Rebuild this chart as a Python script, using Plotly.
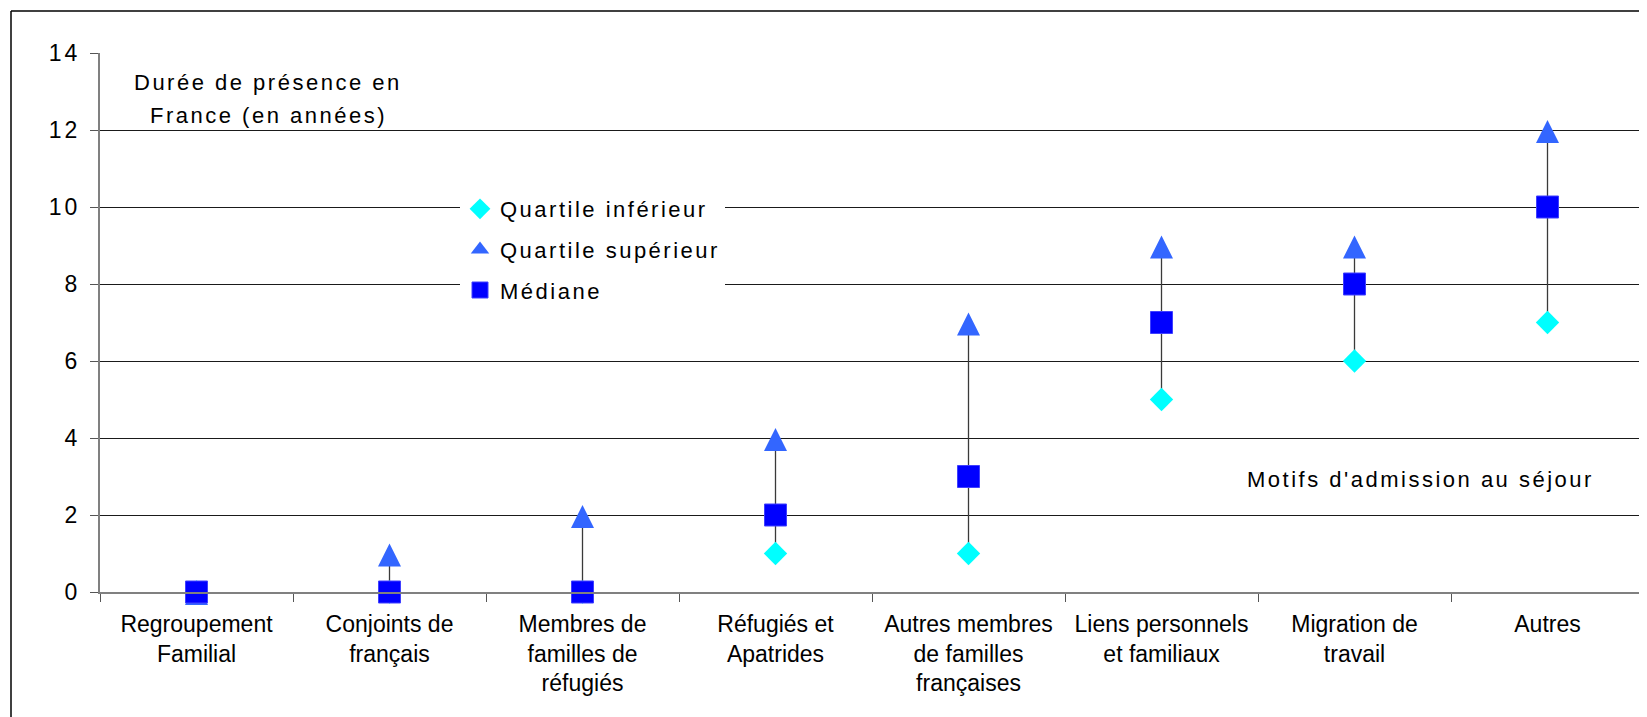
import plotly.graph_objects as go

# ---- data ----
categories = [
    "Regroupement<br>Familial",
    "Conjoints de<br>français",
    "Membres de<br>familles de<br>réfugiés",
    "Réfugiés et<br>Apatrides",
    "Autres membres<br>de familles<br>françaises",
    "Liens personnels<br>et familiaux",
    "Migration de<br>travail",
    "Autres",
]
quartile_inferieur = [0, 0, 0, 1, 1, 5, 6, 7]
quartile_superieur = [0, 1, 2, 4, 7, 9, 9, 12]
mediane = [0, 0, 0, 2, 3, 7, 8, 10]
y_tick_values = [0, 2, 4, 6, 8, 10, 12, 14]

series_names = ["Quartile inférieur", "Quartile supérieur", "Médiane"]
y_title_lines = ["Durée de présence en", "France (en années)"]
x_title = "Motifs d'admission au séjour"

FONT = "Liberation Sans, Arial, sans-serif"
C_INF, C_SUP, C_MED = "#00FFFF", "#3366FF", "#0000FF"


def spaced(text, px):
    return f'<span style="letter-spacing:{px}px">{text}</span>'


# vertical connectors from lower to upper quartile
line_x, line_y = [], []
for c, lo, hi in zip(categories, quartile_inferieur, quartile_superieur):
    line_x += [c, c, None]
    line_y += [lo, hi, None]

fig = go.Figure()
fig.add_trace(go.Scatter(
    x=line_x, y=line_y, mode="lines", showlegend=False, hoverinfo="skip",
    line=dict(color="#3a3a3a", width=1.3), cliponaxis=False,
))
fig.add_trace(go.Scatter(
    x=categories, y=quartile_inferieur, mode="markers",
    name=spaced(series_names[0], 2.5), legendgroup="a", legendrank=1,
    marker=dict(symbol="diamond", size=18, color=C_INF, line=dict(width=0)),
    cliponaxis=False,
))
# upper quartile: triangle whose centre sits slightly below its apex, like the original
fig.add_trace(go.Scatter(
    x=categories, y=quartile_superieur, mode="markers",
    name=series_names[1], legendgroup="b", showlegend=False,
    marker=dict(symbol="arrow-down", angle=180, standoff=10, size=23,
                color=C_SUP, line=dict(width=0)),
    cliponaxis=False,
))
# legend entry for the upper quartile (plain triangle symbol)
fig.add_trace(go.Scatter(
    x=[None], y=[None], mode="markers",
    name=spaced(series_names[1], 2.5), legendgroup="b", legendrank=2,
    marker=dict(symbol="triangle-up", size=16, color=C_SUP, line=dict(width=0)),
))
fig.add_trace(go.Scatter(
    x=categories, y=mediane, mode="markers",
    name=spaced(series_names[2], 2.5), legendgroup="c", legendrank=3,
    marker=dict(symbol="square", size=22, color=C_MED, line=dict(width=1, color="#4040FF")),
    cliponaxis=False,
))

# page offset of the figure inside the html body (default body margin)
OFF = 8
W, H = 1647, 717
# target plot area in page pixels: x 100..1644, y 53..592
L = 100 - OFF
T = 53 - OFF
R = W - (1644 - OFF)
B = H - (592 - OFF)
pw, ph = W - L - R, H - T - B


def px_x(p):
    return (p - OFF - L) / pw


def px_y(p):
    return (H - B - (p - OFF)) / ph


annotations = [
    dict(text=spaced(y_title_lines[0], 2.5), x=px_x(268), y=px_y(82), xref="paper", yref="paper",
         showarrow=False, xanchor="center", yanchor="middle", font=dict(family=FONT, size=22, color="black")),
    dict(text=spaced(y_title_lines[1], 2.5), x=px_x(268), y=px_y(115), xref="paper", yref="paper",
         showarrow=False, xanchor="center", yanchor="middle", font=dict(family=FONT, size=22, color="black")),
    dict(text=spaced(x_title, 2.5), x=px_x(1420), y=px_y(480), xref="paper", yref="paper",
         showarrow=False, xanchor="center", yanchor="middle", font=dict(family=FONT, size=22, color="black")),
]

shapes = [
    dict(type="line", xref="paper", yref="paper", x0=px_x(11), x1=px_x(W + 30), y0=px_y(11), y1=px_y(11),
         line=dict(color="black", width=1.5)),
    dict(type="line", xref="paper", yref="paper", x0=px_x(11), x1=px_x(11), y0=px_y(11), y1=px_y(H + 30),
         line=dict(color="black", width=1.5)),
]

fig.update_layout(
    width=W, height=H,
    margin=dict(l=L, r=R, t=T, b=B, pad=0),
    paper_bgcolor="white", plot_bgcolor="white",
    font=dict(family=FONT, size=22, color="black"),
    xaxis=dict(
        type="category", range=[-0.5, 7.5], showgrid=False, zeroline=False,
        showline=True, linecolor="#808080", linewidth=2,
        ticks="outside", tickson="boundaries", ticklen=8, tickcolor="#555555", tickwidth=1,
        tickfont=dict(family=FONT, size=23, color="black"),
        ticklabelstandoff=10,
    ),
    yaxis=dict(
        range=[0, 14], tickvals=y_tick_values, showgrid=True, gridcolor="#1a1a1a", gridwidth=1,
        zeroline=False, showline=True, linecolor="#808080", linewidth=2,
        ticks="outside", ticklen=8, tickcolor="#555555", tickwidth=1,
        tickfont=dict(family=FONT, size=23, color="black"),
        ticktext=[spaced(str(v), 3) for v in y_tick_values],
        ticklabelstandoff=5,
    ),
    legend=dict(
        x=px_x(460), y=px_y(188), xanchor="left", yanchor="top",
        bgcolor="white", borderwidth=0, traceorder="grouped", tracegroupgap=9,
        font=dict(family=FONT, size=22, color="black"),
    ),
    annotations=annotations,
    shapes=shapes,
)

fig.write_html("out.html")
